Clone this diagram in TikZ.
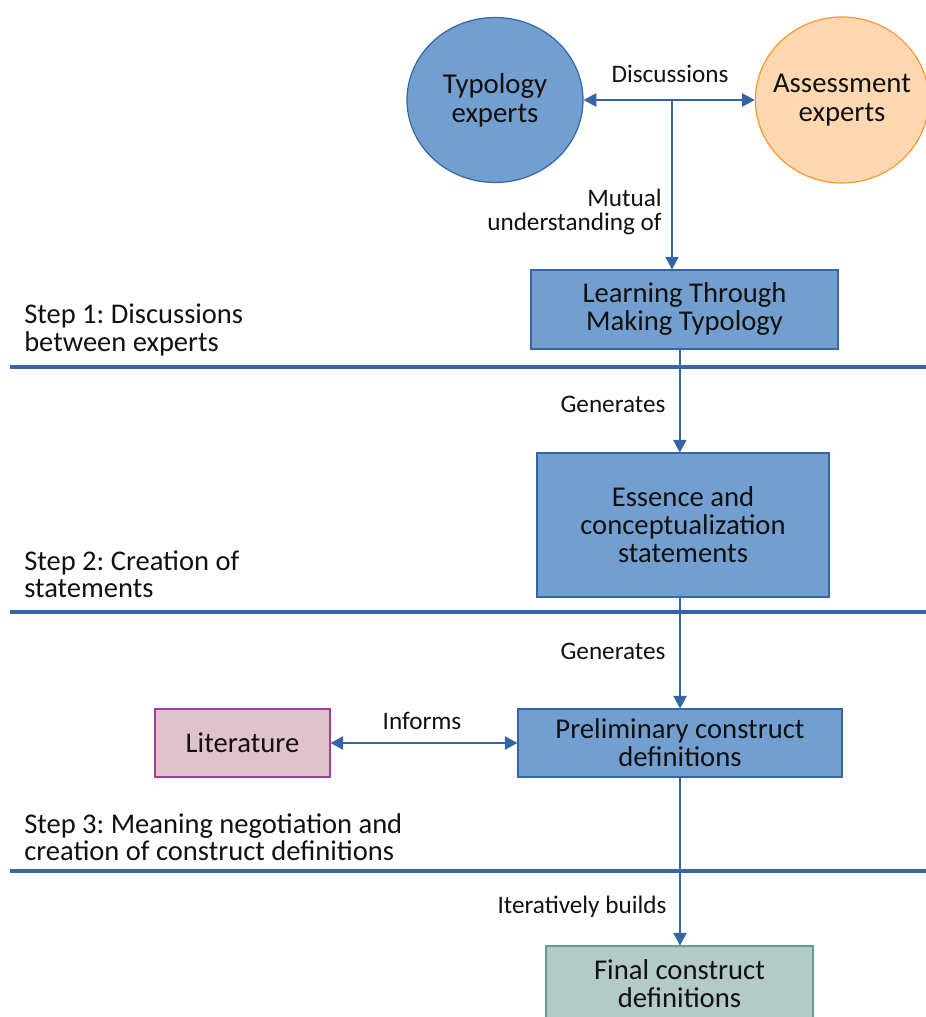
\documentclass[tikz,border=0pt]{standalone}
\usepackage{fontspec}
\setmainfont{Carlito}
\frenchspacing
\usepackage{tikz}
\usetikzlibrary{
    arrows.meta,
    positioning,
    calc,
    shapes.geometric
}
\definecolor{ink}       {HTML}{111111}
\definecolor{flowblue}  {HTML}{3465A4}
\definecolor{boxblue}   {HTML}{729FCF}
\definecolor{orangebg}  {HTML}{FFD8B1}
\definecolor{orangeln}  {HTML}{FF972F}
\definecolor{litbg}     {HTML}{E0C2CD}
\definecolor{litln}     {HTML}{A33E9A}
\definecolor{finbg}     {HTML}{B3CAC7}
\definecolor{finln}     {HTML}{5E9E96}

\begin{document}
\begin{tikzpicture}[
    x=0.75pt, y=-0.75pt,
    line cap=butt, line join=miter,
    >={Triangle[length=9.5pt, width=10pt]},
    %% --- semantic styles ---
    expert/.style     = {ellipse, line width=0.9pt, text=ink, align=center,
                         inner xsep=-20pt, inner ysep=-4pt,
                         font=\fontsize{21.6}{21.5}\selectfont},
    stagebox/.style   = {rectangle, draw=flowblue, fill=boxblue,
                         line width=0.8pt, text=ink, align=center,
                         inner sep=2pt, font=\fontsize{21.5}{21}\selectfont},
    flow/.style       = {->, draw=flowblue, line width=1.1pt},
    twoway/.style     = {<->, draw=flowblue, line width=1.1pt},
    divider/.style    = {draw=flowblue, line width=3.2pt},
    flowlabel/.style  = {font=\fontsize{18.9}{18}\selectfont, text=ink,
                         inner sep=0pt},
    steplabel/.style  = {font=\fontsize{21.4}{20.6}\selectfont, text=ink,
                         align=left, anchor=west, inner sep=0pt}
]
\useasboundingbox (0,0) rectangle (925,1017);

%% =====================================================
%% Step 1 -- experts and their discussions
%% =====================================================
\node[expert, draw=flowblue, fill=boxblue,
      minimum width=132pt, minimum height=123.75pt] (TYP) at (495, 100)
    {Typology\\experts};
\node[expert, draw=orangeln, fill=orangebg,
      minimum width=130pt, minimum height=124.5pt] (ASM) at (842, 100)
    {Assessment\\experts};
\draw[twoway] (TYP.east) -- (ASM.west);
\node[flowlabel] (DIS) at (670, 74) {Discussions};

\node[stagebox, minimum width=230.25pt, minimum height=59.25pt] (LRN)
    at (684.5, 309.5) {Learning Through\\Making Typology};

\coordinate (DJ) at (672, 100);
\draw[flow] (DJ) -- (DJ |- LRN.north);
\node[flowlabel, align=right, anchor=east] (MUT) at (662, 212)
    {Mutual\\understanding of};

\node[steplabel] (S1) at (24, 330) {Step 1: Discussions\\between experts};
\coordinate (D1) at (10, 367);
\draw[divider] (D1) -- ++(930, 0);

%% =====================================================
%% Step 2 -- statements
%% =====================================================
\node[stagebox, minimum width=219pt, minimum height=108pt] (ESS)
    at (683, 525) {Essence and\\conceptualization\\statements};
\draw[flow] ([xshift=-3.5pt]LRN.south) -- ([xshift=-3.5pt]LRN.south |- ESS.north);
\node[flowlabel] (GEN1) at (613, 404) {Generates};

\node[steplabel] (S2) at (24, 574) {Step 2: Creation of\\statements};
\coordinate (D2) at (10, 612);
\draw[divider] (D2) -- ++(930, 0);

%% =====================================================
%% Step 3 -- construct definitions
%% =====================================================
\node[stagebox, minimum width=243pt, minimum height=51pt] (PRE)
    at (680, 743) {Preliminary construct\\definitions};
\draw[flow] ([xshift=-2.2pt]ESS.south) -- ([xshift=-2.2pt]ESS.south |- PRE.north);
\node[flowlabel] (GEN2) at (613, 651) {Generates};

\node[stagebox, draw=litln, fill=litbg,
      minimum width=131.25pt, minimum height=51pt] (LIT)
    at (242.5, 743) {Literature};
\draw[twoway] (LIT.east) -- (PRE.west);
\node[flowlabel] (INF) at (422, 721) {Informs};

\node[steplabel] (S3) at (24, 837)
    {Step 3: Meaning negotiation and\\creation of construct definitions};
\coordinate (D3) at (10, 871);
\draw[divider] (D3) -- ++(930, 0);

%% =====================================================
%% Output
%% =====================================================
\node[stagebox, draw=finln, fill=finbg,
      minimum width=200.25pt, minimum height=57pt] (FIN)
    at (679.5, 984) {Final construct\\definitions};
\draw[flow] (PRE.south) -- (PRE.south |- FIN.north);
\node[flowlabel] (ITB) at (582, 907) {Iteratively builds};

\end{tikzpicture}
\end{document}
